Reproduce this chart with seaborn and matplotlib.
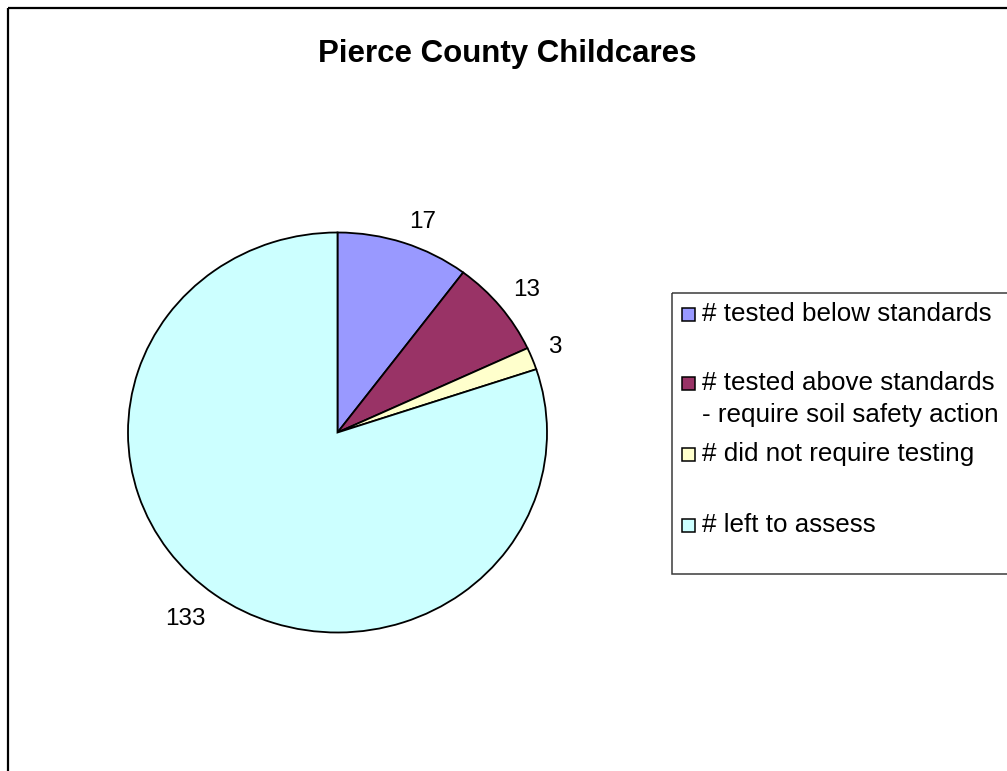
import matplotlib
matplotlib.use("Agg")
import matplotlib.pyplot as plt
from matplotlib.patches import Rectangle
import numpy as np
import seaborn as sns

categories = ["# tested below standards",
              "# tested above standards\n- require soil safety action",
              "# did not require testing",
              "# left to assess"]
counts = [17, 13, 3, 133]
colors = ["#9999FF", "#993366", "#FFFFCC", "#CCFFFF"]

sns.set_style("white")
plt.rcParams["font.family"] = ["Liberation Sans", "DejaVu Sans"]
plt.rcParams["text.color"] = "black"

W, H = 1007, 771
fig = plt.figure(figsize=(W / 100, H / 100), dpi=100)

# pie is drawn slightly wider than tall, like the original
rx, ry = 209.5, 200.0
sy = rx / ry
cx, cy = 337.5, 432.5

ax = fig.add_axes([0, 0, 1, 1])
wedges, texts = ax.pie(counts, colors=colors, labels=[str(c) for c in counts],
                       startangle=90, counterclock=False,
                       center=(cx, (H - cy) * sy), radius=rx,
                       wedgeprops=dict(edgecolor="black", linewidth=1.3),
                       textprops=dict(fontsize=17.5), frame=True)
ax.set_aspect("auto")
ax.set_xlim(0, W)
ax.set_ylim(0, H * sy)
ax.axis("off")

# Excel-like label placement: text box corner sits just outside the rim
d = 1.08
for w, t in zip(wedges, texts):
    ang = np.deg2rad((w.theta1 + w.theta2) / 2)
    c, s = np.cos(ang), np.sin(ang)
    t.set_position((cx + d * rx * c, (H - cy) * sy + d * rx * s))
    t.set_ha("left" if c >= 0 else "right")
    t.set_va("baseline" if s >= 0 else "top")

# overlay in pixel coordinates for frame, title and legend
bg = fig.add_axes([0, 0, 1, 1])
bg.set_xlim(0, W)
bg.set_ylim(H, 0)
bg.axis("off")
bg.patch.set_alpha(0)

bg.add_patch(Rectangle((8, 8), W + 20, H + 20, fill=False, edgecolor="black", lw=1.6))
bg.text(507.5, 62, "Pierce County Childcares", ha="center", va="baseline",
        fontsize=22.5, fontweight="bold")

bg.add_patch(Rectangle((672, 292.5), 360, 281.5, fill=False, edgecolor="#3a3a3a", lw=1.1))
baselines = [321, 390, 461, 532]
for lab, col, y in zip(categories, colors, baselines):
    bg.add_patch(Rectangle((681.5, y - 13), 13, 13, facecolor=col, edgecolor="black", lw=1.1))
    for i, line in enumerate(lab.split("\n")):
        bg.text(702, y + i * 32, line, ha="left", va="baseline", fontsize=18.7)

fig.savefig("out.png", dpi=100, facecolor="white")
